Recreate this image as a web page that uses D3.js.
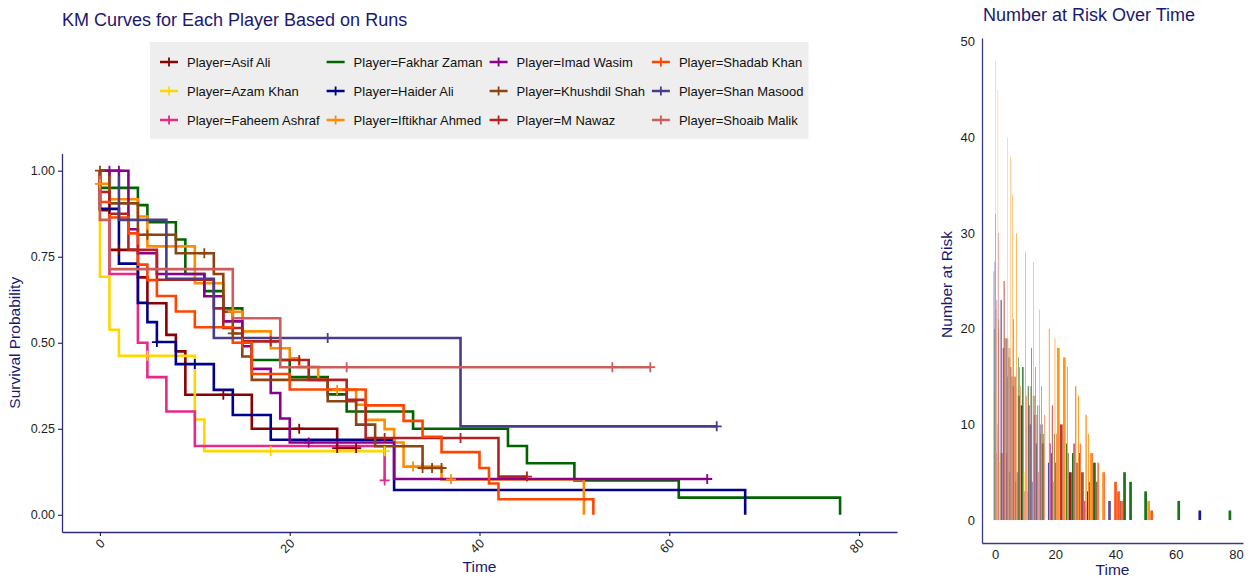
<!DOCTYPE html>
<html>
<head>
<meta charset="utf-8">
<script src="https://cdn.jsdelivr.net/npm/d3@7"></script>
<style>
  body { margin: 0; background: #ffffff; }
  svg { display: block; font-family: "Liberation Sans", Arial, sans-serif; }
</style>
</head>
<body>
<svg id="chart" width="1250" height="578"></svg>
<script>
// ---- Data: Kaplan-Meier fit per player (runs as time) ----
const players = [
  "Asif Ali", "Azam Khan", "Faheem Ashraf", "Fakhar Zaman",
  "Haider Ali", "Iftikhar Ahmed", "Imad Wasim", "Khushdil Shah",
  "M Nawaz", "Shadab Khan", "Shan Masood", "Shoaib Malik"
];

// time points of each player's fit
const kmTime = [
  [0, 1, 2, 4, 5, 7, 8, 9, 13, 16, 21, 25, 27],                                  // Asif Ali
  [0, 1, 2, 5, 10, 11, 18, 30],                                                  // Azam Khan
  [1, 4, 5, 7, 10, 30],                                                          // Faheem Ashraf
  [0, 4, 5, 8, 9, 11, 13, 15, 16, 20, 24, 26, 33, 43, 45, 50, 61, 78],           // Fakhar Zaman
  [0, 1, 2, 4, 5, 6, 8, 10, 12, 14, 18, 31, 68],                                 // Haider Ali
  [0, 1, 4, 5, 6, 7, 10, 13, 14, 15, 18, 20, 21, 23, 24, 25, 27, 28, 30, 31, 32, 33, 36, 37, 51], // Iftikhar Ahmed
  [1, 2, 3, 4, 6, 11, 13, 15, 16, 18, 19, 20, 22, 31, 64],                       // Imad Wasim
  [0, 1, 4, 5, 8, 11, 12, 13, 14, 15, 16, 24, 27, 29, 34, 35, 36],               // Khushdil Shah
  [0, 1, 3, 4, 6, 12, 13, 15, 18, 19, 21, 22, 26, 28, 30, 38, 42, 45],           // M Nawaz
  [0, 1, 3, 4, 5, 6, 8, 10, 14, 15, 16, 20, 28, 32, 34, 36, 40, 41, 42, 52],     // Shadab Khan
  [2, 7, 12, 24, 38, 65],                                                        // Shan Masood
  [0, 1, 14, 19, 26, 54, 58]                                                     // Shoaib Malik
];

// survival probability after each time point
const kmSurv = [
  [0.885, 0.77, 0.77, 0.69, 0.615, 0.523, 0.475, 0.349, 0.349, 0.25, 0.25, 0.194, 0.194],
  [0.692, 0.538, 0.462, 0.462, 0.277, 0.185, 0.185, 0.185],
  [0.70, 0.50, 0.40, 0.30, 0.20, 0.10],
  [0.95, 0.90, 0.85, 0.80, 0.70, 0.65, 0.60, 0.50, 0.45, 0.40, 0.35, 0.30, 0.25, 0.20, 0.15, 0.10, 0.05, 0],
  [0.889, 0.889, 0.73, 0.616, 0.56, 0.502, 0.438, 0.438, 0.363, 0.29, 0.218, 0.072, 0],
  [0.962, 0.917, 0.867, 0.78, 0.78, 0.78, 0.673, 0.59, 0.59, 0.533, 0.484, 0.455, 0.43, 0.392, 0.363, 0.363, 0.32, 0.276, 0.249, 0.21, 0.14, 0.14, 0.103, 0.103, 0],
  [1, 1, 0.83, 0.76, 0.70, 0.635, 0.562, 0.49, 0.424, 0.354, 0.28, 0.21, 0.21, 0.104, 0.104],
  [1, 0.905, 0.814, 0.814, 0.76, 0.76, 0.70, 0.59, 0.527, 0.46, 0.392, 0.33, 0.262, 0.199, 0.136, 0.136, 0.136],
  [0.938, 0.875, 0.77, 0.77, 0.683, 0.60, 0.543, 0.504, 0.504, 0.45, 0.45, 0.392, 0.334, 0.223, 0.223, 0.223, 0.111, 0.111],
  [0.909, 0.864, 0.818, 0.727, 0.682, 0.636, 0.591, 0.545, 0.50, 0.50, 0.409, 0.364, 0.318, 0.273, 0.227, 0.182, 0.136, 0.091, 0.045, 0],
  [0.857, 0.686, 0.514, 0.514, 0.257, 0.257],
  [0.857, 0.714, 0.571, 0.429, 0.429, 0.429, 0.429]
];

// number at risk at each time point
const kmRisk = [
  [26, 23, 20, 19, 17, 15, 13, 12, 9, 8, 6, 5, 3],
  [13, 9, 7, 6, 5, 3, 2, 1],
  [10, 7, 5, 4, 3, 2],
  [20, 19, 18, 17, 16, 14, 13, 12, 10, 9, 8, 7, 6, 5, 4, 3, 2, 1],
  [27, 24, 23, 19, 16, 15, 13, 11, 10, 8, 6, 3, 1],
  [48, 45, 40, 38, 34, 30, 28, 27, 24, 22, 20, 19, 18, 17, 16, 15, 14, 13, 11, 9, 7, 6, 5, 4, 2],
  [20, 19, 18, 15, 14, 12, 11, 10, 9, 8, 7, 6, 5, 4, 2],
  [22, 21, 19, 17, 16, 15, 14, 13, 11, 9, 8, 7, 6, 5, 4, 2, 1],
  [32, 30, 25, 22, 21, 18, 16, 14, 13, 12, 11, 10, 8, 7, 5, 3, 2, 1],
  [22, 20, 19, 18, 16, 15, 14, 13, 12, 11, 11, 9, 8, 7, 6, 5, 4, 3, 2, 1],
  [7, 5, 4, 3, 2, 1],
  [7, 6, 5, 4, 3, 2, 1]
];

// 1 where an innings was not out (censored) at that time point
const kmCens = [
  [0, 0, 1, 0, 0, 0, 0, 0, 1, 0, 1, 1, 1],
  [0, 0, 0, 1, 0, 0, 1, 1],
  [0, 0, 0, 0, 0, 1],
  [0, 0, 0, 0, 0, 0, 0, 0, 0, 0, 0, 0, 0, 0, 0, 0, 0, 0],
  [0, 1, 0, 0, 0, 1, 0, 1, 0, 0, 0, 0, 0],
  [1, 0, 0, 0, 0, 0, 0, 0, 1, 0, 0, 0, 0, 0, 0, 1, 0, 0, 0, 0, 0, 1, 0, 1, 0],
  [1, 1, 0, 0, 0, 0, 0, 0, 0, 0, 0, 0, 1, 0, 1],
  [1, 0, 0, 1, 0, 1, 0, 0, 1, 0, 0, 0, 0, 0, 1, 1, 1],
  [0, 0, 0, 1, 0, 0, 0, 0, 1, 0, 1, 0, 0, 0, 1, 1, 0, 1],
  [0, 0, 0, 0, 0, 0, 0, 0, 0, 1, 0, 0, 0, 0, 0, 0, 0, 0, 0, 0],
  [0, 0, 0, 1, 0, 1],
  [0, 0, 0, 0, 1, 1, 1]
];

const timeTicks = [0, 20, 40, 60, 80];
const survTicks = [0, 0.25, 0.5, 0.75, 1];
const riskTicks = [0, 10, 20, 30, 40, 50];

// ---- Styling ----
const palette = [
  "#8B0000", "#FFD700", "#E7298A", "#006400",
  "#00008B", "#FF8C00", "#8B008B", "#8B4513",
  "#B22222", "#FF4500", "#483D8B", "#CD5C5C"
];
const titleColor = "#191970";
const axisColor = "#2E2E80";
const tickTextColor = "#1e1e1e";

const svg = d3.select("#chart");

const rows = players.flatMap((p, i) => kmTime[i].map((t, j) => {
  const prev = j === 0 ? 1 : kmSurv[i][j - 1];
  return {
    player: p, idx: i, time: t,
    surv: kmSurv[i][j], risk: kmRisk[i][j], cens: kmCens[i][j],
    // rows that only record a not-out, with no drop in survival
    censorOnly: kmCens[i][j] === 1 && kmSurv[i][j] === prev
  };
}));

// ---- Left panel: survival curves ----
const km = { left: 62, right: 897, top: 153.5, bottom: 532 };
const x = d3.scaleLinear().domain([-4, 84]).range([km.left, km.right]);
const y = d3.scaleLinear().domain([-0.05, 1.05]).range([km.bottom, km.top]);

svg.append("text")
  .attr("x", km.left).attr("y", 26)
  .attr("font-size", 18).attr("fill", titleColor)
  .text("KM Curves for Each Player Based on Runs");

// legend
const legend = svg.append("g");
const legendBg = legend.append("rect").attr("fill", "#EEEEEE");
const legendRows = [62, 91, 120];
let colX = 160;
const plusPath = (cx, cy, r) => `M${cx - r},${cy}H${cx + r}M${cx},${cy - r}V${cy + r}`;
for (let c = 0; c < 4; c++) {
  let maxW = 0;
  for (let r = 0; r < 3; r++) {
    const i = c * 3 + r;
    const cy = legendRows[r];
    legend.append("line")
      .attr("x1", colX).attr("x2", colX + 18).attr("y1", cy).attr("y2", cy)
      .attr("stroke", palette[i]).attr("stroke-width", 2.5);
    if (kmCens[i].some(v => v)) {
      legend.append("path").attr("d", plusPath(colX + 9, cy, 4.5))
        .attr("stroke", palette[i]).attr("stroke-width", 1.8).attr("fill", "none");
    }
    const t = legend.append("text")
      .attr("x", colX + 27).attr("y", cy).attr("dy", "0.36em")
      .attr("font-size", 13).attr("fill", "#111")
      .text("Player=" + players[i]);
    maxW = Math.max(maxW, t.node().getComputedTextLength());
  }
  colX = colX + 27 + maxW + 7;
}
legendBg.attr("x", 150).attr("y", 42).attr("width", colX - 2 - 150).attr("height", 97);

// axes
const xAxis = svg.append("g")
  .attr("transform", `translate(0,${km.bottom})`)
  .call(d3.axisBottom(x).tickValues(timeTicks).tickSize(4).tickSizeOuter(0).tickFormat(d3.format("d")));
xAxis.selectAll("text")
  .attr("text-anchor", "end")
  .attr("font-size", 12.5).attr("fill", tickTextColor)
  .attr("x", 2).attr("y", 9).attr("dy", "0.35em")
  .attr("transform", "rotate(-45, 2, 9)");

const yAxis = svg.append("g")
  .attr("transform", `translate(${km.left},0)`)
  .call(d3.axisLeft(y).tickValues(survTicks).tickSize(4).tickSizeOuter(0).tickFormat(d3.format(".2f")));
yAxis.selectAll("text").attr("font-size", 12.5).attr("fill", tickTextColor).attr("x", -7);

[xAxis, yAxis].forEach(a => {
  a.select(".domain").attr("stroke", axisColor).attr("stroke-width", 1.3);
  a.selectAll(".tick line").attr("stroke", "#222").attr("stroke-width", 1.1);
  a.attr("font-family", null);
});

svg.append("text")
  .attr("x", (km.left + km.right) / 2).attr("y", 572)
  .attr("text-anchor", "middle").attr("font-size", 15.5).attr("fill", titleColor)
  .text("Time");
svg.append("text")
  .attr("transform", `translate(20,${(km.top + km.bottom) / 2}) rotate(-90)`)
  .attr("text-anchor", "middle").attr("font-size", 15.5).attr("fill", titleColor)
  .text("Survival Probability");

// step curves
const stepLine = d3.line().x(d => x(d[0])).y(d => y(d[1])).curve(d3.curveStepAfter);
const curves = svg.append("g");
players.forEach((p, i) => {
  const pts = [[0, 1]].concat(kmTime[i].map((t, j) => [t, kmSurv[i][j]]));
  curves.append("path")
    .attr("d", stepLine(pts))
    .attr("fill", "none")
    .attr("stroke", palette[i])
    .attr("stroke-width", 2.6)
    .attr("stroke-linejoin", "miter");
});

// censoring marks
svg.append("g").selectAll("path")
  .data(rows.filter(d => d.cens))
  .join("path")
  .attr("d", d => plusPath(x(d.time), y(d.surv), 5))
  .attr("stroke", d => palette[d.idx])
  .attr("stroke-width", 1.8)
  .attr("fill", "none");

// ---- Right panel: number at risk ----
const rk = { left: 982, right: 1243, top: 38, bottom: 543 };
const xr = d3.scaleLinear().domain([-4.35, 82.35]).range([rk.left, rk.right]);
const yr = d3.scaleLinear().domain([-2.4, 50.4]).range([rk.bottom, rk.top]);

svg.append("text")
  .attr("x", rk.left + 1).attr("y", 21)
  .attr("font-size", 18).attr("fill", titleColor)
  .text("Number at Risk Over Time");

// dodged bars at event times: players sharing a time split the 0.9-wide slot
const bars = svg.append("g");
const byTime = d3.group(rows.filter(d => !d.censorOnly), d => d.time);
byTime.forEach((arr, t) => {
  arr.sort((a, b) => a.idx - b.idx);
  const w = 0.9 / arr.length;
  arr.forEach((d, k) => {
    const x0 = t - 0.45 + k * w;
    bars.append("rect")
      .attr("x", xr(x0))
      .attr("width", xr(x0 + w) - xr(x0))
      .attr("y", yr(d.risk))
      .attr("height", yr(0) - yr(d.risk))
      .attr("fill", palette[d.idx])
      .attr("fill-opacity", 0.9);
  });
});

const xrAxis = svg.append("g")
  .attr("transform", `translate(0,${rk.bottom})`)
  .call(d3.axisBottom(xr).tickValues(timeTicks).tickSize(0).tickPadding(7).tickSizeOuter(0));
xrAxis.selectAll("text").attr("font-size", 13).attr("fill", tickTextColor);

const yrAxis = svg.append("g")
  .attr("transform", `translate(${rk.left},0)`)
  .call(d3.axisLeft(yr).tickValues(riskTicks).tickSize(0).tickPadding(7).tickSizeOuter(0));
yrAxis.selectAll("text").attr("font-size", 13).attr("fill", tickTextColor);

[xrAxis, yrAxis].forEach(a => {
  a.select(".domain").attr("stroke", "#3A3A88").attr("stroke-width", 1.3);
  a.attr("font-family", null);
});

svg.append("text")
  .attr("x", (rk.left + rk.right) / 2).attr("y", 575)
  .attr("text-anchor", "middle").attr("font-size", 15.5).attr("fill", titleColor)
  .text("Time");
svg.append("text")
  .attr("transform", `translate(952,${(rk.top + rk.bottom) / 2 - 6}) rotate(-90)`)
  .attr("text-anchor", "middle").attr("font-size", 15.5).attr("fill", titleColor)
  .text("Number at Risk");
</script>
</body>
</html>
